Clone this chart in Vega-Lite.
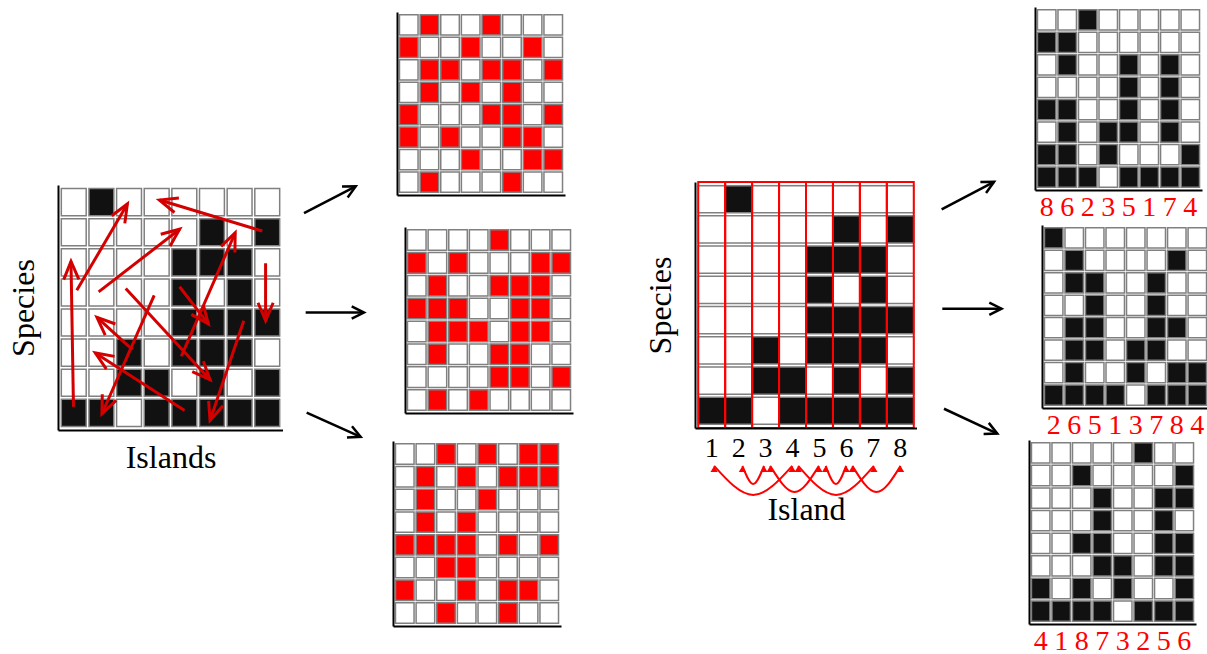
{
"$schema":"https://vega.github.io/schema/vega-lite/v6.json",
"background":"white",
"padding":{"left":7,"top":0,"right":0,"bottom":0},
"config":{
 "view":{"stroke":null,"fill":"white"},
 "concat":{"spacing":0},
 "axis":{"domainColor":"black","domainWidth":2,"ticks":false,"grid":false,"labelFont":"Liberation Serif","titleFont":"Liberation Serif","titleFontWeight":"normal","titleColor":"black","labelColor":"black"}
},
"datasets":{
"obs":[
{"i":1,"s":1,"p":0},{"i":2,"s":1,"p":1},{"i":3,"s":1,"p":0},{"i":4,"s":1,"p":0},{"i":5,"s":1,"p":0},{"i":6,"s":1,"p":0},{"i":7,"s":1,"p":0},{"i":8,"s":1,"p":0},
{"i":1,"s":2,"p":0},{"i":2,"s":2,"p":0},{"i":3,"s":2,"p":0},{"i":4,"s":2,"p":0},{"i":5,"s":2,"p":0},{"i":6,"s":2,"p":1},{"i":7,"s":2,"p":0},{"i":8,"s":2,"p":1},
{"i":1,"s":3,"p":0},{"i":2,"s":3,"p":0},{"i":3,"s":3,"p":0},{"i":4,"s":3,"p":0},{"i":5,"s":3,"p":1},{"i":6,"s":3,"p":1},{"i":7,"s":3,"p":1},{"i":8,"s":3,"p":0},
{"i":1,"s":4,"p":0},{"i":2,"s":4,"p":0},{"i":3,"s":4,"p":0},{"i":4,"s":4,"p":0},{"i":5,"s":4,"p":1},{"i":6,"s":4,"p":0},{"i":7,"s":4,"p":1},{"i":8,"s":4,"p":0},
{"i":1,"s":5,"p":0},{"i":2,"s":5,"p":0},{"i":3,"s":5,"p":0},{"i":4,"s":5,"p":0},{"i":5,"s":5,"p":1},{"i":6,"s":5,"p":1},{"i":7,"s":5,"p":1},{"i":8,"s":5,"p":1},
{"i":1,"s":6,"p":0},{"i":2,"s":6,"p":0},{"i":3,"s":6,"p":1},{"i":4,"s":6,"p":0},{"i":5,"s":6,"p":1},{"i":6,"s":6,"p":1},{"i":7,"s":6,"p":1},{"i":8,"s":6,"p":0},
{"i":1,"s":7,"p":0},{"i":2,"s":7,"p":0},{"i":3,"s":7,"p":1},{"i":4,"s":7,"p":1},{"i":5,"s":7,"p":0},{"i":6,"s":7,"p":1},{"i":7,"s":7,"p":0},{"i":8,"s":7,"p":1},
{"i":1,"s":8,"p":1},{"i":2,"s":8,"p":1},{"i":3,"s":8,"p":0},{"i":4,"s":8,"p":1},{"i":5,"s":8,"p":1},{"i":6,"s":8,"p":1},{"i":7,"s":8,"p":1},{"i":8,"s":8,"p":1}
],
"n1":[
{"i":1,"s":1,"p":0},{"i":2,"s":1,"p":1},{"i":3,"s":1,"p":0},{"i":4,"s":1,"p":0},{"i":5,"s":1,"p":1},{"i":6,"s":1,"p":0},{"i":7,"s":1,"p":0},{"i":8,"s":1,"p":0},
{"i":1,"s":2,"p":1},{"i":2,"s":2,"p":0},{"i":3,"s":2,"p":0},{"i":4,"s":2,"p":1},{"i":5,"s":2,"p":0},{"i":6,"s":2,"p":0},{"i":7,"s":2,"p":1},{"i":8,"s":2,"p":0},
{"i":1,"s":3,"p":0},{"i":2,"s":3,"p":1},{"i":3,"s":3,"p":1},{"i":4,"s":3,"p":0},{"i":5,"s":3,"p":1},{"i":6,"s":3,"p":1},{"i":7,"s":3,"p":0},{"i":8,"s":3,"p":1},
{"i":1,"s":4,"p":0},{"i":2,"s":4,"p":1},{"i":3,"s":4,"p":0},{"i":4,"s":4,"p":1},{"i":5,"s":4,"p":0},{"i":6,"s":4,"p":1},{"i":7,"s":4,"p":0},{"i":8,"s":4,"p":0},
{"i":1,"s":5,"p":1},{"i":2,"s":5,"p":0},{"i":3,"s":5,"p":0},{"i":4,"s":5,"p":0},{"i":5,"s":5,"p":1},{"i":6,"s":5,"p":1},{"i":7,"s":5,"p":0},{"i":8,"s":5,"p":1},
{"i":1,"s":6,"p":1},{"i":2,"s":6,"p":0},{"i":3,"s":6,"p":1},{"i":4,"s":6,"p":0},{"i":5,"s":6,"p":0},{"i":6,"s":6,"p":1},{"i":7,"s":6,"p":1},{"i":8,"s":6,"p":0},
{"i":1,"s":7,"p":0},{"i":2,"s":7,"p":0},{"i":3,"s":7,"p":0},{"i":4,"s":7,"p":1},{"i":5,"s":7,"p":0},{"i":6,"s":7,"p":0},{"i":7,"s":7,"p":1},{"i":8,"s":7,"p":1},
{"i":1,"s":8,"p":0},{"i":2,"s":8,"p":1},{"i":3,"s":8,"p":0},{"i":4,"s":8,"p":0},{"i":5,"s":8,"p":0},{"i":6,"s":8,"p":1},{"i":7,"s":8,"p":0},{"i":8,"s":8,"p":0}
],
"n2":[
{"i":1,"s":1,"p":0},{"i":2,"s":1,"p":0},{"i":3,"s":1,"p":0},{"i":4,"s":1,"p":0},{"i":5,"s":1,"p":1},{"i":6,"s":1,"p":0},{"i":7,"s":1,"p":0},{"i":8,"s":1,"p":0},
{"i":1,"s":2,"p":1},{"i":2,"s":2,"p":0},{"i":3,"s":2,"p":1},{"i":4,"s":2,"p":0},{"i":5,"s":2,"p":0},{"i":6,"s":2,"p":0},{"i":7,"s":2,"p":1},{"i":8,"s":2,"p":1},
{"i":1,"s":3,"p":0},{"i":2,"s":3,"p":1},{"i":3,"s":3,"p":0},{"i":4,"s":3,"p":0},{"i":5,"s":3,"p":1},{"i":6,"s":3,"p":1},{"i":7,"s":3,"p":1},{"i":8,"s":3,"p":0},
{"i":1,"s":4,"p":1},{"i":2,"s":4,"p":1},{"i":3,"s":4,"p":1},{"i":4,"s":4,"p":0},{"i":5,"s":4,"p":0},{"i":6,"s":4,"p":1},{"i":7,"s":4,"p":1},{"i":8,"s":4,"p":0},
{"i":1,"s":5,"p":0},{"i":2,"s":5,"p":1},{"i":3,"s":5,"p":1},{"i":4,"s":5,"p":1},{"i":5,"s":5,"p":0},{"i":6,"s":5,"p":1},{"i":7,"s":5,"p":1},{"i":8,"s":5,"p":0},
{"i":1,"s":6,"p":0},{"i":2,"s":6,"p":1},{"i":3,"s":6,"p":0},{"i":4,"s":6,"p":0},{"i":5,"s":6,"p":1},{"i":6,"s":6,"p":1},{"i":7,"s":6,"p":0},{"i":8,"s":6,"p":0},
{"i":1,"s":7,"p":0},{"i":2,"s":7,"p":0},{"i":3,"s":7,"p":0},{"i":4,"s":7,"p":0},{"i":5,"s":7,"p":1},{"i":6,"s":7,"p":1},{"i":7,"s":7,"p":0},{"i":8,"s":7,"p":1},
{"i":1,"s":8,"p":0},{"i":2,"s":8,"p":1},{"i":3,"s":8,"p":0},{"i":4,"s":8,"p":1},{"i":5,"s":8,"p":0},{"i":6,"s":8,"p":0},{"i":7,"s":8,"p":0},{"i":8,"s":8,"p":0}
],
"n3":[
{"i":1,"s":1,"p":0},{"i":2,"s":1,"p":0},{"i":3,"s":1,"p":1},{"i":4,"s":1,"p":0},{"i":5,"s":1,"p":1},{"i":6,"s":1,"p":0},{"i":7,"s":1,"p":1},{"i":8,"s":1,"p":1},
{"i":1,"s":2,"p":0},{"i":2,"s":2,"p":1},{"i":3,"s":2,"p":0},{"i":4,"s":2,"p":1},{"i":5,"s":2,"p":0},{"i":6,"s":2,"p":1},{"i":7,"s":2,"p":1},{"i":8,"s":2,"p":1},
{"i":1,"s":3,"p":0},{"i":2,"s":3,"p":1},{"i":3,"s":3,"p":0},{"i":4,"s":3,"p":0},{"i":5,"s":3,"p":1},{"i":6,"s":3,"p":0},{"i":7,"s":3,"p":0},{"i":8,"s":3,"p":0},
{"i":1,"s":4,"p":0},{"i":2,"s":4,"p":1},{"i":3,"s":4,"p":0},{"i":4,"s":4,"p":1},{"i":5,"s":4,"p":0},{"i":6,"s":4,"p":0},{"i":7,"s":4,"p":0},{"i":8,"s":4,"p":0},
{"i":1,"s":5,"p":1},{"i":2,"s":5,"p":1},{"i":3,"s":5,"p":1},{"i":4,"s":5,"p":1},{"i":5,"s":5,"p":0},{"i":6,"s":5,"p":1},{"i":7,"s":5,"p":0},{"i":8,"s":5,"p":1},
{"i":1,"s":6,"p":0},{"i":2,"s":6,"p":0},{"i":3,"s":6,"p":1},{"i":4,"s":6,"p":1},{"i":5,"s":6,"p":0},{"i":6,"s":6,"p":0},{"i":7,"s":6,"p":0},{"i":8,"s":6,"p":0},
{"i":1,"s":7,"p":1},{"i":2,"s":7,"p":0},{"i":3,"s":7,"p":0},{"i":4,"s":7,"p":1},{"i":5,"s":7,"p":0},{"i":6,"s":7,"p":1},{"i":7,"s":7,"p":1},{"i":8,"s":7,"p":0},
{"i":1,"s":8,"p":0},{"i":2,"s":8,"p":0},{"i":3,"s":8,"p":1},{"i":4,"s":8,"p":0},{"i":5,"s":8,"p":0},{"i":6,"s":8,"p":1},{"i":7,"s":8,"p":0},{"i":8,"s":8,"p":0}
],
"ra":[
{"x":0.99,"y":1.2,"x2":0.9,"y2":6.03},
{"x":1.11,"y":5.07,"x2":2.94,"y2":7.94},
{"x":1.9,"y":5.02,"x2":4.83,"y2":7.1},
{"x":7.82,"y":7.04,"x2":4.1,"y2":8.07},
{"x":7.94,"y":5.97,"x2":7.94,"y2":4.06},
{"x":4.83,"y":5.19,"x2":5.87,"y2":3.95},
{"x":2.88,"y":5.13,"x2":5.93,"y2":2.1},
{"x":4.89,"y":2.88,"x2":6.84,"y2":6.98},
{"x":3.91,"y":4.9,"x2":2.02,"y2":0.97},
{"x":3.12,"y":3.1,"x2":1.84,"y2":4.17},
{"x":5.01,"y":1.08,"x2":1.78,"y2":2.99},
{"x":7.15,"y":4.06,"x2":5.93,"y2":0.75}
],
"ba1":[{"x":19.1,"y":32.6,"x2":66.1,"y2":28.5},{"x":20.6,"y":47.8,"x2":73.6,"y2":47.8},{"x":21.5,"y":63.1,"x2":70.6,"y2":66.8}],
"ba2":[{"x":22.0,"y":32.0,"x2":68.8,"y2":27.8},{"x":22.6,"y":47.2,"x2":75.5,"y2":47.2},{"x":24.1,"y":62.5,"x2":71.7,"y2":66.3}],
"arcs":[
{"a":1,"k":0,"x":1.09,"y":-15.4},{"a":1,"k":1,"x":2.54,"y":-27.2},{"a":1,"k":2,"x":3.99,"y":-15.4},
{"a":2,"k":0,"x":2.14,"y":-15.4},{"a":2,"k":1,"x":2.54,"y":-22.8},{"a":2,"k":2,"x":2.94,"y":-15.4},
{"a":3,"k":0,"x":3.17,"y":-15.4},{"a":3,"k":1,"x":4.075,"y":-26},{"a":3,"k":2,"x":4.98,"y":-15.4},
{"a":4,"k":0,"x":4.21,"y":-15.4},{"a":4,"k":1,"x":5.615,"y":-27.2},{"a":4,"k":2,"x":7.02,"y":-15.4},
{"a":5,"k":0,"x":5.23,"y":-15.4},{"a":5,"k":1,"x":5.61,"y":-22.8},{"a":5,"k":2,"x":5.99,"y":-15.4},
{"a":6,"k":0,"x":6.22,"y":-15.4},{"a":6,"k":1,"x":7.115,"y":-26},{"a":6,"k":2,"x":8.01,"y":-15.4}
]
},
"spacing":0,
"resolve":{"scale":{"color":"independent","x":"independent","y":"independent"}},
"hconcat":[
{"spacing":0,"resolve":{"scale":{"color":"independent","x":"independent","y":"independent"}},"vconcat":[
 {"width":1,"height":185,"data":{"values":[]},"mark":"point"},
 {"width":225,"height":245,
  "layer":[
   {"data":{"name":"obs"},"mark":{"type":"rect","stroke":"#808080","strokeWidth":1.5},
    "encoding":{
     "x":{"field":"i","type":"ordinal","scale":{"paddingInner":0.1,"paddingOuter":0.12},"axis":{"labels":false,"title":"Islands","titleFontSize":32,"titlePadding":12}},
     "y":{"field":"s","type":"ordinal","scale":{"paddingInner":0.1,"paddingOuter":0.12},"axis":{"labels":false,"title":"Species","titleFontSize":32,"titlePadding":18}},
     "color":{"field":"p","type":"nominal","scale":{"domain":[0,1],"range":["#ffffff","#111111"]},"legend":null}}},
   {"data":{"name":"ra"},
    "encoding":{"x":{"field":"x","type":"quantitative","scale":{"domain":[0.43,8.57],"nice":false,"zero":false},"axis":null},"y":{"field":"y","type":"quantitative","scale":{"domain":[0.43,8.57],"nice":false,"zero":false},"axis":null}},
    "layer":[
     {"mark":{"type":"rule","color":"#d40000","strokeWidth":3},"encoding":{"x2":{"field":"x2"},"y2":{"field":"y2"}}},
     {"transform":[{"calculate":"atan2((datum.x2-datum.x)*27.6,(datum.y2-datum.y)*30.1)*180/PI","as":"ang"}],
      "mark":{"type":"point","shape":"M-0.42,1L0,0L0.42,1","filled":false,"stroke":"#d40000","strokeWidth":3,"size":1300,"opacity":1},
      "encoding":{"x":{"field":"x2","type":"quantitative","axis":null},"y":{"field":"y2","type":"quantitative","axis":null},"angle":{"field":"ang","type":"quantitative","scale":null}}}
    ]}
  ],
  "resolve":{"scale":{"x":"independent","y":"independent"}}
 }
]},
{"width":110,"height":654,"data":{"name":"ba1"},
 "encoding":{"x":{"field":"x","type":"quantitative","scale":{"domain":[0,100],"nice":false,"zero":false},"axis":null},"y":{"field":"y","type":"quantitative","scale":{"domain":[0,100],"nice":false,"zero":false,"reverse":true},"axis":null}},
 "layer":[
  {"mark":{"type":"rule","color":"black","strokeWidth":2.5},"encoding":{"x2":{"field":"x2"},"y2":{"field":"y2"}}},
  {"transform":[{"calculate":"atan2((datum.x2-datum.x)*1.10,(datum.y-datum.y2)*6.54)*180/PI","as":"ang"}],
   "mark":{"type":"point","shape":"M-0.5,1L0,0L0.5,1","filled":false,"stroke":"black","strokeWidth":2.5,"size":600,"opacity":1},
   "encoding":{"x":{"field":"x2","type":"quantitative","axis":null},"y":{"field":"y2","type":"quantitative","axis":null},"angle":{"field":"ang","type":"quantitative","scale":null}}}
 ]},
{"spacing":0,"resolve":{"scale":{"color":"independent","x":"independent","y":"independent"}},"vconcat":[
 {"width":1,"height":12,"data":{"values":[]},"mark":"point"},
 {"width":172,"height":183,"data":{"name":"n1"},"mark":{"type":"rect","stroke":"#808080","strokeWidth":1.5},
  "encoding":{
   "x":{"field":"i","type":"ordinal","scale":{"paddingInner":0.1,"paddingOuter":0.12,"range":[4,172]},"axis":{"labels":false,"title":null}},
   "y":{"field":"s","type":"ordinal","scale":{"paddingInner":0.1,"paddingOuter":0.12},"axis":{"labels":false,"title":null,"offset":-4}},
   "color":{"field":"p","type":"nominal","scale":{"domain":[0,1],"range":["#ffffff","#ff0000"]},"legend":null}}},
 {"width":1,"height":32,"data":{"values":[]},"mark":"point"},
 {"width":180,"height":186,"data":{"name":"n2"},"mark":{"type":"rect","stroke":"#808080","strokeWidth":1.5},
  "encoding":{
   "x":{"field":"i","type":"ordinal","scale":{"paddingInner":0.1,"paddingOuter":0.12,"range":[12,180]},"axis":{"labels":false,"title":null}},
   "y":{"field":"s","type":"ordinal","scale":{"paddingInner":0.1,"paddingOuter":0.12},"axis":{"labels":false,"title":null,"offset":-12}},
   "color":{"field":"p","type":"nominal","scale":{"domain":[0,1],"range":["#ffffff","#ff0000"]},"legend":null}}},
 {"width":1,"height":28,"data":{"values":[]},"mark":"point"},
 {"width":168,"height":185,"data":{"name":"n3"},"mark":{"type":"rect","stroke":"#808080","strokeWidth":1.5},
  "encoding":{
   "x":{"field":"i","type":"ordinal","scale":{"paddingInner":0.1,"paddingOuter":0.12},"axis":{"labels":false,"title":null}},
   "y":{"field":"s","type":"ordinal","scale":{"paddingInner":0.1,"paddingOuter":0.12},"axis":{"labels":false,"title":null}},
   "color":{"field":"p","type":"nominal","scale":{"domain":[0,1],"range":["#ffffff","#ff0000"]},"legend":null}}}
]},
{"width":71,"height":10,"data":{"values":[]},"mark":"point"},
{"spacing":0,"resolve":{"scale":{"color":"independent","x":"independent","y":"independent"}},"vconcat":[
 {"width":1,"height":181,"data":{"values":[]},"mark":"point"},
 {"width":222,"height":246,
  "layer":[
   {"data":{"name":"obs"},
    "encoding":{"x":{"field":"i","type":"ordinal","scale":{"paddingInner":0,"paddingOuter":0.12},"axis":{"title":"Island","titleFontSize":32,"titlePadding":32,"labelFontSize":28,"labelPadding":6,"labelAngle":0}}},
    "layer":[
     {"mark":{"type":"rect","stroke":"#808080","strokeWidth":1.5},
      "encoding":{
       "y":{"field":"s","type":"ordinal","scale":{"paddingInner":0.1,"paddingOuter":0.12},"axis":{"labels":false,"title":"Species","titleFontSize":32,"titlePadding":18}},
       "color":{"field":"p","type":"nominal","scale":{"domain":[0,1],"range":["#ffffff","#111111"]},"legend":null}}},
     {"transform":[{"filter":"datum.s == 1"}],"mark":{"type":"rect","filled":false,"stroke":"#ff0000","strokeWidth":2}}
    ]},
   {"data":{"name":"arcs"},
    "encoding":{"x":{"field":"x","type":"quantitative","scale":{"domain":[0.38,8.62],"nice":false,"zero":false},"axis":null},"y":{"field":"y","type":"quantitative","scale":{"domain":[0,100],"nice":false,"zero":false},"axis":null}},
    "layer":[
     {"mark":{"type":"line","color":"#ff0000","strokeWidth":2,"interpolate":"natural"},"encoding":{"detail":{"field":"a","type":"nominal"},"order":{"field":"k","type":"quantitative"}}},
     {"transform":[{"filter":"datum.k != 1"}],"mark":{"type":"point","shape":"M-0.6,1L0,0L0.6,1Z","filled":true,"color":"#ff0000","size":150,"opacity":1}}
    ]}
  ],
  "resolve":{"scale":{"x":"independent","y":"independent"}}
 }
]},
{"width":112,"height":654,"data":{"name":"ba2"},
 "encoding":{"x":{"field":"x","type":"quantitative","scale":{"domain":[0,100],"nice":false,"zero":false},"axis":null},"y":{"field":"y","type":"quantitative","scale":{"domain":[0,100],"nice":false,"zero":false,"reverse":true},"axis":null}},
 "layer":[
  {"mark":{"type":"rule","color":"black","strokeWidth":2.5},"encoding":{"x2":{"field":"x2"},"y2":{"field":"y2"}}},
  {"transform":[{"calculate":"atan2((datum.x2-datum.x)*1.12,(datum.y-datum.y2)*6.54)*180/PI","as":"ang"}],
   "mark":{"type":"point","shape":"M-0.5,1L0,0L0.5,1","filled":false,"stroke":"black","strokeWidth":2.5,"size":600,"opacity":1},
   "encoding":{"x":{"field":"x2","type":"quantitative","axis":null},"y":{"field":"y2","type":"quantitative","axis":null},"angle":{"field":"ang","type":"quantitative","scale":null}}}
 ]},
{"spacing":0,"resolve":{"scale":{"color":"independent","x":"independent","y":"independent"}},"vconcat":[
 {"width":1,"height":7,"data":{"values":[]},"mark":"point"},
 {"width":173,"height":183,"data":{"name":"obs"},"mark":{"type":"rect","stroke":"#808080","strokeWidth":1.5},
  "encoding":{
   "x":{"field":"i","type":"ordinal","sort":[8,6,2,3,5,1,7,4],"scale":{"paddingInner":0.1,"paddingOuter":0.12,"range":[6,173]},"axis":{"title":null,"labelFontSize":28,"labelColor":"#ff0000","labelPadding":3,"labelAngle":0}},
   "y":{"field":"s","type":"ordinal","scale":{"paddingInner":0.1,"paddingOuter":0.12},"axis":{"labels":false,"title":null,"offset":-6}},
   "color":{"field":"p","type":"nominal","scale":{"domain":[0,1],"range":["#ffffff","#111111"]},"legend":null}}},
 {"width":1,"height":4,"data":{"values":[]},"mark":"point"},
 {"width":180,"height":183,"data":{"name":"obs"},"mark":{"type":"rect","stroke":"#808080","strokeWidth":1.5},
  "encoding":{
   "x":{"field":"i","type":"ordinal","sort":[2,6,5,1,3,7,8,4],"scale":{"paddingInner":0.1,"paddingOuter":0.12,"range":[13,180]},"axis":{"title":null,"labelFontSize":28,"labelColor":"#ff0000","labelPadding":3,"labelAngle":0}},
   "y":{"field":"s","type":"ordinal","scale":{"paddingInner":0.1,"paddingOuter":0.12},"axis":{"labels":false,"title":null,"offset":-13}},
   "color":{"field":"p","type":"nominal","scale":{"domain":[0,1],"range":["#ffffff","#111111"]},"legend":null}}},
 {"width":1,"height":1,"data":{"values":[]},"mark":"point"},
 {"width":167,"height":184,"data":{"name":"obs"},"mark":{"type":"rect","stroke":"#808080","strokeWidth":1.5},
  "encoding":{
   "x":{"field":"i","type":"ordinal","sort":[4,1,8,7,3,2,5,6],"scale":{"paddingInner":0.1,"paddingOuter":0.12},"axis":{"title":null,"labelFontSize":28,"labelColor":"#ff0000","labelPadding":3,"labelAngle":0}},
   "y":{"field":"s","type":"ordinal","scale":{"paddingInner":0.1,"paddingOuter":0.12},"axis":{"labels":false,"title":null}},
   "color":{"field":"p","type":"nominal","scale":{"domain":[0,1],"range":["#ffffff","#111111"]},"legend":null}}}
]}
]
}
